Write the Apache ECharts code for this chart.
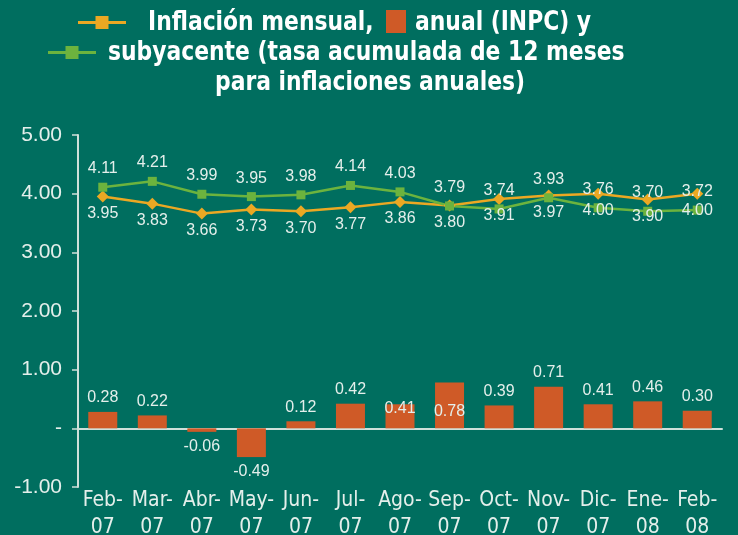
<!DOCTYPE html>
<html>
<head>
<meta charset="utf-8">
<script src="https://cdn.jsdelivr.net/npm/echarts@6/dist/echarts.min.js"></script>
<style>
  html, body { margin: 0; padding: 0; background: #006e5f; }
  #chart { width: 738px; height: 535px; }
</style>
</head>
<body>
<div id="chart"></div>
<script>
// datos
var meses = ["Feb-\n07", "Mar-\n07", "Abr-\n07", "May-\n07", "Jun-\n07", "Jul-\n07", "Ago-\n07",
  "Sep-\n07", "Oct-\n07", "Nov-\n07", "Dic-\n07", "Ene-\n08", "Feb-\n08"];
var mensual = [0.28, 0.22, -0.06, -0.49, 0.12, 0.42, 0.41, 0.78, 0.39, 0.71, 0.41, 0.46, 0.30];
var anual = [3.95, 3.83, 3.66, 3.73, 3.70, 3.77, 3.86, 3.80, 3.91, 3.97, 4.00, 3.90, 4.00];
var subyacente = [4.11, 4.21, 3.99, 3.95, 3.98, 4.14, 4.03, 3.79, 3.74, 3.93, 3.76, 3.70, 3.72];

var chartDom = document.getElementById("chart");
var myChart = echarts.init(chartDom);

var narrow = "'Liberation Sans Narrow', 'Arial Narrow', 'DejaVu Sans Condensed', sans-serif";
var claro = "#e4efeb";
// icono de leyenda: línea con cuadro al centro
var iconoLinea = "path://M0,5 L17.5,5 L17.5,0 L30.5,0 L30.5,5 L48,5 L48,8 L30.5,8 L30.5,13 L17.5,13 L17.5,8 L0,8 Z";

// texto del título (comprimido a lo ancho)
function titulo(texto, x, y) {
  return { type: "text", x: x, y: y, scaleX: 0.9,
    style: { text: texto, fill: "#fff", font: "bold 27px " + narrow, textVerticalAlign: "middle" } };
}

// etiquetas de barras: posición por barra
var barData = mensual.map(function (v, i) {
  var item = { value: v };
  if (v < 0) item.label = { position: "bottom", distance: 7 };
  if (i === 6) item.label = { position: "insideTop", distance: -4 };
  if (i === 7) item.label = { position: "insideTop", distance: 21 };
  return item;
});

var option = {
  backgroundColor: "#006e5f",
  animation: false,
  graphic: [
    titulo("Inflación mensual,", 148, 23),
    titulo("anual (INPC) y", 415, 23),
    titulo("subyacente (tasa acumulada de 12 meses", 108, 53),
    titulo("para inflaciones anuales)", 215, 83)
  ],
  legend: [
    { data: [{ name: "Inflación mensual", icon: iconoLinea }], left: 78, top: 16, padding: 0,
      itemWidth: 48, itemHeight: 13, formatter: function () { return ""; } },
    { data: [{ name: "anual (INPC)", icon: "rect" }], left: 386, top: 10, padding: 0,
      itemWidth: 20, itemHeight: 23, formatter: function () { return ""; } },
    { data: [{ name: "subyacente", icon: iconoLinea }], left: 48, top: 46, padding: 0,
      itemWidth: 48, itemHeight: 13, formatter: function () { return ""; } }
  ],
  grid: { left: 78, right: 16, top: 135, bottom: 48, outerBoundsMode: "none" },
  xAxis: {
    type: "category",
    data: meses,
    axisLine: { onZero: true, lineStyle: { color: "#cfe0da", width: 2 } },
    axisTick: { length: 6, lineStyle: { color: "#cfe0da", width: 1.5 } },
    axisLabel: { color: claro, fontFamily: narrow, fontSize: 21, lineHeight: 27, margin: 0, interval: 0 }
  },
  yAxis: {
    type: "value",
    min: -1,
    max: 5,
    interval: 1,
    splitLine: { show: false },
    axisLine: { show: true, lineStyle: { color: "#cfe0da", width: 2 } },
    axisTick: { show: true, length: 6, lineStyle: { color: "#cfe0da", width: 1.5 } },
    axisLabel: {
      color: claro, fontFamily: "'Liberation Sans', Arial, sans-serif", fontSize: 21, margin: 16,
      formatter: function (v) { return v === 0 ? "-" : v.toFixed(2); }
    }
  },
  series: [
    {
      name: "anual (INPC)",
      type: "bar",
      data: barData,
      barWidth: 29,
      itemStyle: { color: "#cf5a27" },
      label: { show: true, position: "top", distance: 6, color: claro, fontSize: 16,
        fontFamily: "'Liberation Sans', Arial, sans-serif", formatter: function (p) { return p.value.toFixed(2); } }
    },
    {
      name: "Inflación mensual",
      type: "line",
      data: anual,
      symbol: "diamond",
      symbolSize: 12,
      itemStyle: { color: "#eba823" },
      lineStyle: { color: "#eba823", width: 2.5 },
      label: { show: true, position: "bottom", distance: 3, color: claro, fontSize: 16,
        fontFamily: "'Liberation Sans', Arial, sans-serif", formatter: function (p) { return p.value.toFixed(2); } }
    },
    {
      name: "subyacente",
      type: "line",
      data: subyacente,
      symbol: "rect",
      symbolSize: 9,
      itemStyle: { color: "#6cb33e" },
      lineStyle: { color: "#6cb33e", width: 2.5 },
      label: { show: true, position: "top", distance: 6, color: claro, fontSize: 16,
        fontFamily: "'Liberation Sans', Arial, sans-serif", formatter: function (p) { return p.value.toFixed(2); } }
    }
  ]
};

myChart.setOption(option);

window.addEventListener("resize", function () {
  myChart.resize();
});
</script>
</body>
</html>
